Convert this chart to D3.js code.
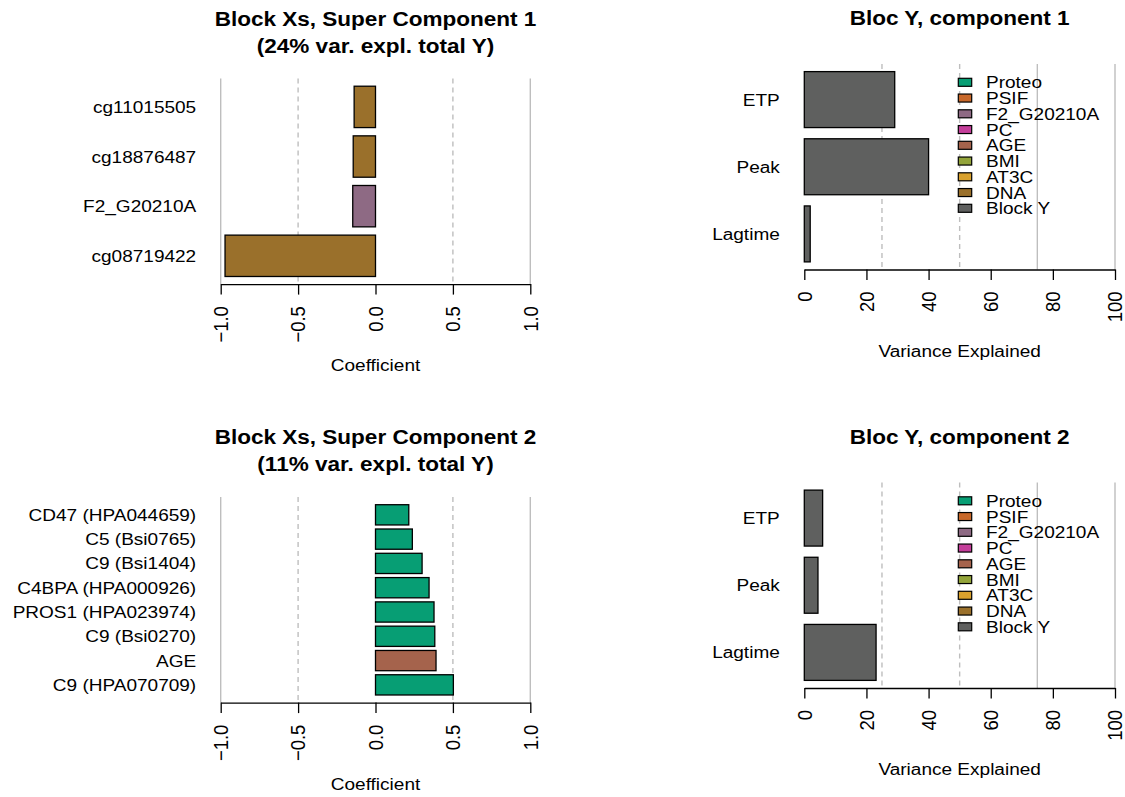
<!DOCTYPE html>
<html lang="en">
<head>
<meta charset="UTF-8">
<title>Block Xs / Bloc Y components</title>
<script src="https://cdn.jsdelivr.net/npm/d3@7"></script>
<style>
  body { margin: 0; background: #fff; }
  text { font-family: "Liberation Sans", Arial, Helvetica, sans-serif; fill: #000; }
</style>
</head>
<body>
<script>
const W = 1125, H = 797;
const SX = 1.1;       // the original figure was saved stretched sideways, glyphs too
const PH = 205.5;     // plot height, same in all four panels
const DY = 418.5;     // second row offset

// groups + colours (legend order)
const groups = ["Proteo", "PSIF", "F2_G20210A", "PC", "AGE", "BMI", "AT3C", "DNA", "Block Y"];
const groupColors = ["#079E74", "#C8682A", "#8E6A84", "#C43E9A", "#A5634C", "#93A43A", "#D9A12D", "#9A702B", "#5F605F"];

// Block Xs, super component 1 (top to bottom)
const x1Labels = ["cg11015505", "cg18876487", "F2_G20210A", "cg08719422"];
const x1Values = [-0.138, -0.144, -0.147, -0.972];
const x1Groups = ["DNA", "DNA", "F2_G20210A", "DNA"];

// Block Xs, super component 2 (top to bottom)
const x2Labels = ["CD47 (HPA044659)", "C5 (Bsi0765)", "C9 (Bsi1404)", "C4BPA (HPA000926)",
                  "PROS1 (HPA023974)", "C9 (Bsi0270)", "AGE", "C9 (HPA070709)"];
const x2Values = [0.215, 0.238, 0.301, 0.346, 0.378, 0.383, 0.391, 0.503];
const x2Groups = ["Proteo", "Proteo", "Proteo", "Proteo", "Proteo", "Proteo", "AGE", "Proteo"];

// Bloc Y, variance explained (%)
const yLabels = ["ETP", "Peak", "Lagtime"];
const yComp1 = [29.1, 40.0, 1.9];
const yComp2 = [5.9, 4.4, 23.1];
const yGroups = ["Block Y", "Block Y", "Block Y"];

// axes
const coefTicks = [-1, -0.5, 0, 0.5, 1];
const coefSolid = [-1, 1], coefDashed = [-0.5, 0.5];
const varTicks = [0, 20, 40, 60, 80, 100];
const varSolid = [75, 100], varDashed = [25, 50];

const color = d3.scaleOrdinal().domain(groups).range(groupColors);

const svg = d3.select("body").append("svg").attr("width", W).attr("height", H);

function addText(parent, x, y, str, size, anchor, rotate) {
    return parent.append("text")
        .attr("transform", `translate(${x},${y}) scale(${SX},1)` + (rotate ? " rotate(-90)" : ""))
        .attr("text-anchor", anchor)
        .style("font-size", size + "px")
        .text(str);
}

function panel(o) {
    const g = svg.append("g");
    const x = d3.scaleLinear().domain(o.domain).range([o.x0, o.x1]);
    const n = o.labels.length;
    const span = 1.2 * n - 0.2;
    // barplot units: bar k (from bottom) sits in [0.2+1.2k, 1.2+1.2k]
    const y = d3.scaleLinear().domain([0.2 - 0.04 * span, 1.2 * n + 0.04 * span]).range([o.top + PH, o.top]);
    const bottom = o.top + PH;

    g.selectAll("line.solid").data(o.solid).join("line").attr("class", "solid")
        .attr("x1", d => x(d)).attr("x2", d => x(d)).attr("y1", o.top).attr("y2", bottom)
        .attr("stroke", "#bebebe").attr("stroke-width", 1.4);
    g.selectAll("line.dash").data(o.dashed).join("line").attr("class", "dash")
        .attr("x1", d => x(d)).attr("x2", d => x(d)).attr("y1", o.top).attr("y2", bottom)
        .attr("stroke", "#bebebe").attr("stroke-width", 1.4).attr("stroke-dasharray", "5,4");

    g.selectAll("rect.bar").data(o.values).join("rect").attr("class", "bar")
        .attr("x", d => x(Math.min(0, d)))
        .attr("width", d => Math.abs(x(d) - x(0)))
        .attr("y", (d, i) => y(1.2 * (n - i)))
        .attr("height", (d, i) => y(0.2 + 1.2 * (n - 1 - i)) - y(1.2 * (n - i)))
        .attr("fill", (d, i) => color(o.groups[i]))
        .attr("stroke", "#000").attr("stroke-width", 1.3);

    o.labels.forEach((lab, i) => {
        addText(g, o.x0 - 24.5, y(0.7 + 1.2 * (n - 1 - i)), lab, 17.3, "end").attr("dy", "0.35em");
    });

    const axis = d3.axisBottom(x).tickValues(o.ticks).tickSize(10.5).tickSizeOuter(0).tickFormat("");
    const ax = g.append("g").attr("transform", `translate(0,${bottom})`).call(axis);
    ax.selectAll("path, line").attr("stroke", "#000").attr("stroke-width", 1.3);
    o.ticks.forEach(t => {
        addText(g, x(t), bottom + 22, o.fmt(t), 18.5, "end", true).attr("dy", "0.36em");
    });

    const cx = (o.x0 + o.x1) / 2;
    addText(g, cx, bottom + 87, o.xlab, 17.3, "middle");
    o.title.forEach((t, i) => {
        addText(g, cx, o.titleY[i], t, 20.5, "middle").style("font-weight", "bold");
    });

    if (o.legend) {
        const lg = g.append("g");
        groups.forEach((grp, i) => {
            const cy = o.top + 18.3 + i * 15.75;
            lg.append("rect").attr("x", 958.3).attr("y", cy - 4).attr("width", 13.4).attr("height", 8)
                .attr("fill", color(grp)).attr("stroke", "#000").attr("stroke-width", 1.2);
            addText(lg, 986, cy, grp, 17.3, "start").attr("dy", "0.35em");
        });
    }
}

const fmtCoef = d => d3.format(".1f")(d).replace("-", "\u2212");
const fmtVar = d => String(d);

panel({ x0: 220.7, x1: 530.3, top: 78.6, domain: [-1, 1], ticks: coefTicks, fmt: fmtCoef,
        solid: coefSolid, dashed: coefDashed, labels: x1Labels, values: x1Values, groups: x1Groups,
        xlab: "Coefficient", title: ["Block Xs, Super Component 1", "(24% var. expl. total Y)"], titleY: [25.5, 52.5] });
panel({ x0: 804.3, x1: 1115, top: 64, domain: [0, 100], ticks: varTicks, fmt: fmtVar,
        solid: varSolid, dashed: varDashed, labels: yLabels, values: yComp1, groups: yGroups,
        xlab: "Variance Explained", title: ["Bloc Y, component 1"], titleY: [25], legend: true });
panel({ x0: 220.7, x1: 530.3, top: 78.6 + DY, domain: [-1, 1], ticks: coefTicks, fmt: fmtCoef,
        solid: coefSolid, dashed: coefDashed, labels: x2Labels, values: x2Values, groups: x2Groups,
        xlab: "Coefficient", title: ["Block Xs, Super Component 2", "(11% var. expl. total Y)"], titleY: [25.5 + DY, 52.5 + DY] });
panel({ x0: 804.3, x1: 1115, top: 64 + DY, domain: [0, 100], ticks: varTicks, fmt: fmtVar,
        solid: varSolid, dashed: varDashed, labels: yLabels, values: yComp2, groups: yGroups,
        xlab: "Variance Explained", title: ["Bloc Y, component 2"], titleY: [25 + DY], legend: true });
</script>
</body>
</html>
